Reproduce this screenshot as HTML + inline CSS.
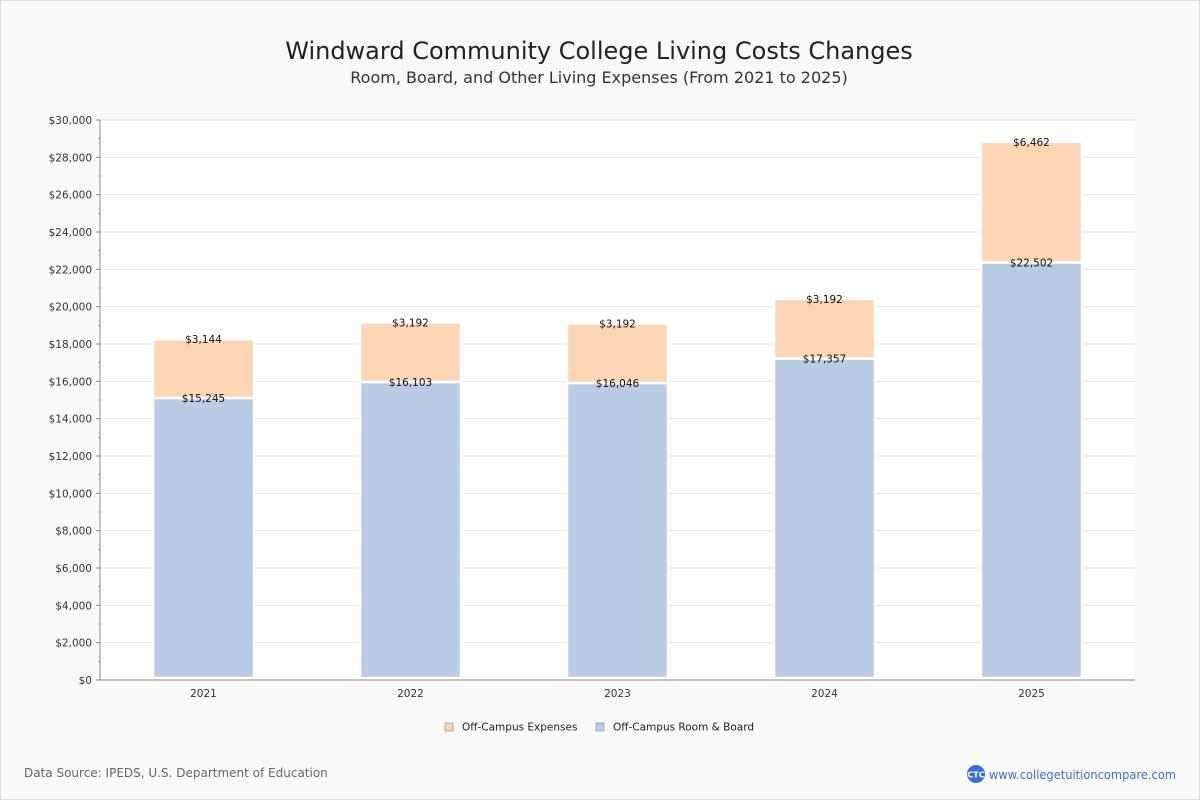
<!DOCTYPE html>
<html><head><meta charset="utf-8"><style>
body{margin:0;background:#f9f9f9;font-family:"Liberation Sans","DejaVu Sans",sans-serif;}
#wrap{position:relative;width:1198px;height:798px;border:1px solid #ddd;background:#f9f9f9;overflow:hidden;}
</style></head><body>
<div id="wrap">
<svg id="chart" width="1198" height="798" xmlns="http://www.w3.org/2000/svg" style="font-family:'DejaVu Sans','Liberation Sans',sans-serif">
<text x="598" y="58" text-anchor="middle" font-size="24" fill="#222">Windward Community College Living Costs Changes</text>
<text x="598" y="82" text-anchor="middle" font-size="16" fill="#333">Room, Board, and Other Living Expenses (From 2021 to 2025)</text>
<rect x="99" y="119" width="1035" height="560" fill="#fff"/>
<g id="grid"></g><g id="bars"></g><g id="axes"></g>
<g>
<rect x="444" y="722" width="8" height="8" fill="#fcd5b4" stroke="#777" stroke-width="0.5"/>
<text x="461" y="729.5" font-size="10.5" fill="#222">Off-Campus Expenses</text>
<rect x="595" y="722" width="8" height="8" fill="#b9cce4" stroke="#777" stroke-width="0.5"/>
<text x="612" y="729.5" font-size="10.5" fill="#222">Off-Campus Room &amp; Board</text>
</g>
<text x="23" y="776" font-size="12" fill="#666">Data Source: IPEDS, U.S. Department of Education</text>
<circle cx="975" cy="773" r="9" fill="#3a6fd8"/>
<text x="975" y="776.5" text-anchor="middle" font-size="8" fill="#fff" font-weight="bold">CTC</text>
<text x="988" y="778" font-size="12" fill="#3a6fd8" textLength="187" lengthAdjust="spacingAndGlyphs">www.collegetuitioncompare.com</text>
</svg></div>
<script>
const categories=["2021","2022","2023","2024","2025"];
const roomBoard=[15245,16103,16046,17357,22502];
const expenses=[3144,3192,3192,3192,6462];
const yTicks=[0,2000,4000,6000,8000,10000,12000,14000,16000,18000,20000,22000,24000,26000,28000,30000];
const NS="http://www.w3.org/2000/svg";
const x0=99,x1=1134,yTop=119,yBot=679,yMax=30000;
const y=v=>yBot-(v/yMax)*(yBot-yTop);
const bw=(x1-x0)/categories.length;
const xc=i=>x0+bw*(i+0.5);
function mk(tag,attrs,parent,txt){const e=document.createElementNS(NS,tag);for(const k in attrs)e.setAttribute(k,attrs[k]);if(txt!==undefined)e.textContent=txt;parent.appendChild(e);return e;}
const fmt=v=>"$"+v.toLocaleString("en-US");
const grid=document.getElementById("grid"),bars=document.getElementById("bars"),axes=document.getElementById("axes");
yTicks.forEach(t=>{
 const g=mk("line",{x1:x0,x2:x1,y1:y(t),y2:y(t),stroke:"#e3e3e3","stroke-width":1},grid);
 
 
 const l=mk("text",{x:x0-8,y:y(t)+4,"text-anchor":"end","font-size":10.5,fill:"#333"},axes,fmt(t));
 
 
 mk("line",{x1:x0-4,x2:x0,y1:y(t),y2:y(t),stroke:"#888"},axes);
 if(t<yMax){mk("line",{x1:x0-2,x2:x0,y1:y(t+1000),y2:y(t+1000),stroke:"#aaa"},axes);}
});
mk("line",{x1:x0,x2:x0,y1:yTop,y2:yBot,stroke:"#888"},axes);
mk("line",{x1:x0,x2:x1,y1:yBot,y2:yBot,stroke:"#888"},axes);
const off=2.5;
categories.forEach((c,i)=>{
 const cx=xc(i),w=101;
 const b=mk("rect",{x:cx-w/2,y:y(roomBoard[i])+off,width:w,height:yBot-2-y(roomBoard[i])-off,fill:"#b9cce4",stroke:"#fff","stroke-width":2.5},bars);
 
 
 const tot=roomBoard[i]+expenses[i];
 const o=mk("rect",{x:cx-w/2,y:y(tot)+off,width:w,height:y(roomBoard[i])-y(tot),fill:"#fcd5b4",stroke:"#fff","stroke-width":2.5},bars);
 
 
 const l1=mk("text",{x:cx,y:y(roomBoard[i])+off+4,"text-anchor":"middle","font-size":10.5,fill:"#111"},bars,fmt(roomBoard[i]));
 
 
 const l2=mk("text",{x:cx,y:y(tot)+off+4,"text-anchor":"middle","font-size":10.5,fill:"#111"},bars,fmt(expenses[i]));
 
 
 const xl=mk("text",{x:cx,y:yBot+17,"text-anchor":"middle","font-size":10.5,fill:"#333"},axes,c);
 
 
});
</script>
</body></html>
